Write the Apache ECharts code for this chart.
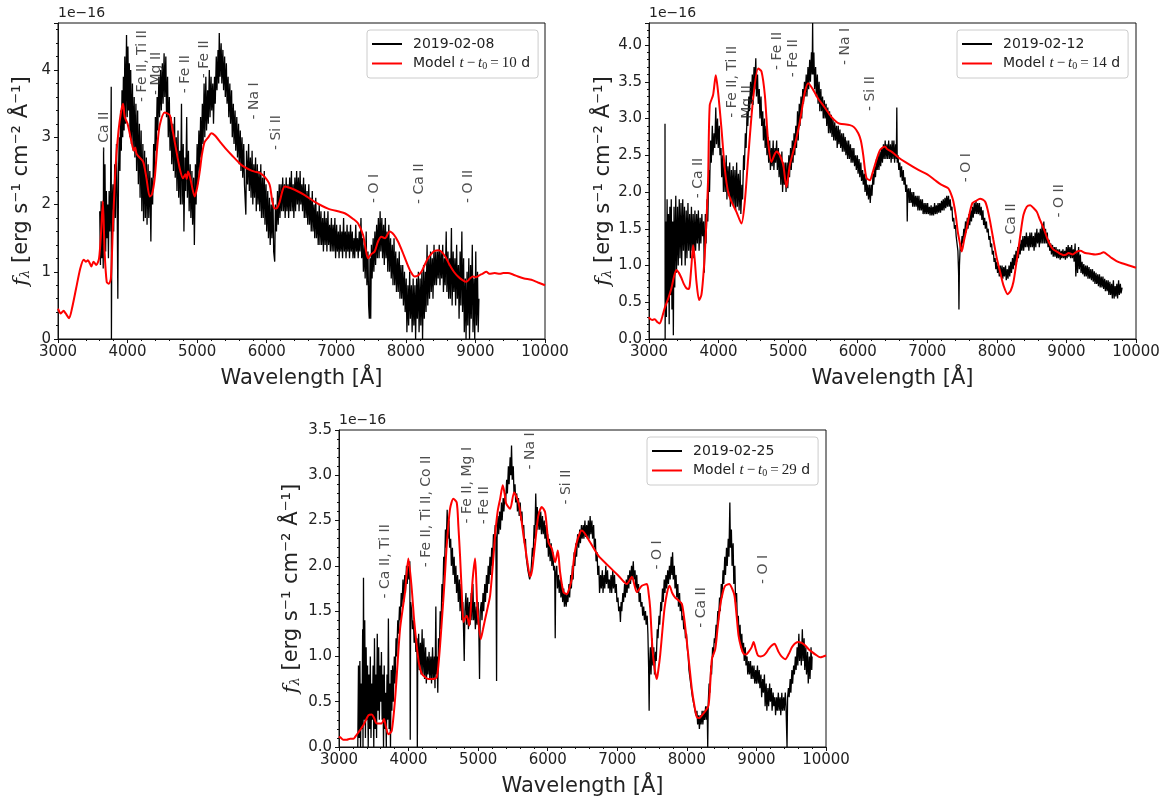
<!DOCTYPE html>
<html><head><meta charset="utf-8">
<script src="https://cdn.jsdelivr.net/npm/echarts/dist/echarts.min.js"></script>
<style>html,body{margin:0;padding:0;background:#fff}#c{width:1168px;height:806px}</style>
</head><body><div id="c"></div>
<script>
// ---------- DATA (wavelength in Å, flux in 1e-16 erg s^-1 cm^-2 Å^-1) ----------
const obsNames = ['2019-02-08', '2019-02-12', '2019-02-25'];
const modelNames = ['Model t − t0 = 10 d', 'Model t − t0 = 14 d', 'Model t − t0 = 29 d'];
const xTicks = [3000, 4000, 5000, 6000, 7000, 8000, 9000, 10000];
const yMax = [4.7, 4.3, 3.5];
const yStep = [1, 0.5, 0.5];

const obs1 = [3600,1.9,3610,1.1,3620,2.05,3630,1.2,3640,2.0,3650,1.05,3655,2.85,3665,1.4,3675,2.6,3685,1.3,3695,2.2,3705,1.5,3715,2.0,3725,1.2,3735,2.2,3745,1.6,3755,2.1,3765,3.75,3768,0,3775,1.9,3790,2.3,3800,1.6,3815,2.6,3825,1.8,3840,2.9,3850,2.1,3860,0.6,3870,2.5,3880,3.0,3890,2.5,3900,3.4,3910,2.8,3920,3.7,3930,3.0,3940,3.9,3950,3.1,3960,4.2,3970,3.2,3985,4.52,3995,3.3,4005,4.35,4015,3.4,4025,4.1,4035,3.0,4045,4.0,4055,2.9,4070,3.8,4080,2.8,4095,3.6,4105,2.7,4120,3.5,4130,2.5,4145,3.4,4155,2.3,4170,3.2,4180,2.1,4195,3.1,4205,1.9,4220,2.9,4230,1.75,4245,2.8,4255,1.8,4270,2.7,4280,1.7,4295,2.6,4305,1.8,4320,2.5,4335,1.45,4345,2.4,4360,2.0,4375,2.9,4385,2.4,4400,3.3,4410,2.8,4425,3.6,4435,3.1,4450,3.9,4460,3.3,4475,4.0,4485,3.4,4500,4.1,4510,3.5,4525,4.25,4535,3.6,4550,4.2,4560,3.3,4575,3.9,4585,3.0,4600,3.6,4610,2.8,4625,3.3,4635,2.6,4650,3.2,4660,2.5,4675,3.3,4685,2.4,4700,3.0,4710,2.2,4725,3.1,4735,2.1,4750,2.8,4760,2.0,4775,3.5,4785,2.0,4800,2.9,4810,1.6,4825,2.7,4835,2.2,4850,3.3,4860,2.1,4875,2.8,4885,1.9,4900,2.6,4910,1.8,4925,2.5,4935,1.7,4950,2.4,4960,1.4,4975,2.6,4985,2.0,5000,2.9,5010,2.3,5025,3.1,5035,2.5,5050,3.3,5060,2.7,5075,3.5,5085,2.9,5100,3.8,5110,3.0,5125,3.9,5135,3.1,5150,3.7,5160,3.2,5175,4.0,5185,3.3,5200,3.9,5210,3.4,5225,3.8,5235,3.2,5250,3.9,5260,3.5,5275,4.2,5285,3.7,5300,4.3,5310,3.8,5318,4.55,5330,3.9,5345,4.4,5355,3.8,5370,4.3,5380,3.7,5395,4.2,5405,3.6,5420,4.1,5430,3.5,5445,3.9,5455,3.3,5470,3.8,5480,3.2,5495,3.7,5505,3.0,5520,3.5,5530,2.9,5545,3.4,5555,2.8,5570,3.3,5580,2.7,5595,3.2,5605,2.6,5620,3.1,5630,2.5,5645,3.0,5655,2.4,5670,2.9,5680,2.3,5700,1.85,5710,2.8,5725,2.3,5740,2.9,5750,2.2,5765,2.7,5775,2.1,5790,2.8,5800,2.0,5815,2.6,5825,2.1,5840,2.7,5850,1.9,5865,2.6,5875,2.0,5890,2.5,5900,1.9,5915,2.6,5925,1.8,5940,2.4,5950,1.8,5965,2.5,5975,1.7,5990,2.3,6000,1.6,6015,2.2,6025,1.5,6040,2.1,6050,1.4,6065,2.0,6075,1.5,6090,2.1,6100,1.3,6115,1.15,6125,2.0,6140,1.6,6155,2.2,6165,1.7,6180,2.3,6190,1.8,6205,2.3,6215,1.9,6230,2.4,6240,1.9,6255,2.3,6265,1.8,6280,2.4,6290,1.9,6305,2.3,6315,1.8,6330,2.4,6340,1.9,6355,2.5,6365,1.9,6380,2.3,6390,1.8,6405,2.4,6415,1.9,6430,2.5,6440,2.0,6455,2.4,6465,1.9,6480,2.5,6490,2.0,6505,2.3,6515,1.9,6530,2.4,6540,1.8,6555,2.3,6565,1.8,6580,2.2,6590,1.7,6605,2.3,6615,1.7,6630,2.1,6640,1.6,6655,2.2,6665,1.6,6680,2.0,6690,1.5,6705,2.1,6715,1.5,6730,1.9,6740,1.4,6755,2.0,6765,1.4,6780,1.9,6790,1.4,6805,1.8,6815,1.3,6830,1.9,6840,1.4,6855,1.8,6865,1.3,6880,1.9,6890,1.4,6905,1.7,6915,1.3,6930,1.8,6940,1.3,6955,1.7,6965,1.3,6980,1.8,6990,1.2,7005,1.7,7015,1.3,7030,1.6,7040,1.2,7055,1.7,7065,1.3,7080,1.6,7090,1.2,7105,1.8,7115,1.3,7130,1.6,7140,1.2,7155,1.7,7165,1.3,7180,1.6,7190,1.2,7205,1.7,7215,1.3,7230,1.6,7240,1.2,7255,1.5,7265,1.2,7280,1.7,7290,1.3,7305,1.5,7315,1.2,7330,1.6,7340,1.3,7355,1.8,7365,1.2,7380,1.5,7390,1.0,7405,1.4,7415,0.9,7430,1.6,7440,0.8,7455,1.3,7465,0.5,7475,0.3,7485,1.2,7495,0.3,7505,1.4,7515,0.9,7530,1.5,7540,1.0,7555,1.6,7565,1.1,7580,1.7,7590,1.2,7605,1.8,7615,1.2,7630,1.9,7640,1.3,7655,1.8,7665,1.2,7680,1.7,7690,1.1,7705,1.8,7715,1.2,7730,1.6,7740,1.0,7755,1.7,7765,1.0,7780,1.5,7790,0.9,7805,1.4,7815,0.8,7830,1.5,7840,0.8,7855,1.3,7865,0.7,7880,1.2,7890,0.7,7905,1.3,7915,0.6,7930,1.1,7940,0.6,7955,1.1,7965,0.5,7980,1.0,7990,0.4,8005,0.9,8015,0.1,8030,0.8,8040,0.2,8055,1.0,8065,0.3,8080,0.8,8090,0.1,8105,0.9,8115,0.2,8130,0.8,8140,0.0,8155,0.9,8165,0.3,8180,1.0,8190,0.1,8205,0.9,8215,0.2,8230,1.0,8240,0.0,8255,1.1,8265,0.3,8280,1.0,8290,0.4,8305,1.4,8315,0.5,8330,1.2,8340,0.6,8355,1.3,8365,0.7,8380,1.2,8390,0.6,8405,1.4,8415,0.8,8430,1.3,8440,0.8,8455,1.3,8465,0.9,8480,1.4,8490,0.8,8505,1.3,8515,0.9,8530,1.4,8540,0.7,8555,1.2,8565,0.8,8580,1.6,8590,0.7,8605,1.3,8615,0.6,8630,1.2,8640,0.6,8655,1.65,8665,0.5,8680,1.3,8690,0.7,8705,1.2,8715,0.5,8730,1.4,8740,0.6,8755,1.1,8765,0.3,8780,1.3,8790,0.5,8805,1.6,8815,0.4,8830,1.2,8840,0.1,8855,0.9,8865,0.0,8880,1.0,8890,0.2,8905,1.2,8915,0.0,8930,1.1,8940,0.3,8955,1.4,8965,0.1,8980,0.9,8990,0.0,9005,1.3,9015,0.2,9030,1.0,9040,0.1,9050,0.6];

const model1 = [3000,0.45,3040,0.38,3080,0.42,3110,0.38,3160,0.31,3200,0.45,3260,0.75,3320,1.05,3370,1.18,3400,1.15,3430,1.17,3460,1.12,3480,1.08,3510,1.15,3550,1.1,3590,1.2,3620,1.6,3645,2.05,3670,1.3,3700,0.85,3730,0.82,3760,0.9,3790,1.7,3830,2.6,3870,3.1,3910,3.4,3935,3.5,3960,3.3,4000,3.2,4055,2.94,4090,2.8,4110,2.85,4130,2.75,4222,2.64,4270,2.4,4318,2.12,4350,2.15,4390,2.39,4430,2.9,4462,3.18,4534,3.37,4606,3.33,4640,3.15,4678,2.93,4749,2.54,4797,2.39,4830,2.45,4850,2.38,4869,2.49,4900,2.4,4940,2.2,4965,2.12,5000,2.25,5037,2.49,5070,2.75,5108,2.93,5160,3.0,5204,3.06,5252,3.03,5348,2.91,5420,2.82,5492,2.74,5635,2.59,5750,2.52,5827,2.49,5900,2.47,5971,2.41,6043,2.29,6080,2.05,6115,1.94,6150,1.95,6186,2.04,6225,2.2,6258,2.27,6330,2.25,6402,2.22,6546,2.14,6690,2.04,6881,1.94,7121,1.87,7250,1.78,7312,1.72,7384,1.55,7420,1.35,7456,1.2,7500,1.26,7552,1.3,7600,1.45,7648,1.52,7700,1.5,7767,1.6,7830,1.55,7887,1.45,7950,1.3,8007,1.15,8070,1.0,8127,0.93,8170,0.94,8223,1.0,8270,1.1,8318,1.2,8370,1.27,8414,1.31,8470,1.32,8510,1.3,8570,1.22,8630,1.1,8690,1.0,8750,0.93,8810,0.88,8869,0.85,8920,0.9,8965,0.93,9000,0.92,9061,0.95,9100,0.97,9157,1.0,9200,0.97,9277,0.98,9350,0.97,9400,0.98,9468,0.98,9540,0.96,9612,0.93,9700,0.9,9804,0.88,9900,0.84,10000,0.8];

const obs2 = [3230,2.93,3232,0.0,3240,1.6,3250,0.3,3260,1.9,3270,0.5,3280,1.7,3290,0.2,3300,1.8,3310,0.6,3320,1.9,3330,0.4,3340,1.6,3350,0.05,3360,1.8,3370,0.7,3385,1.95,3395,0.9,3410,1.8,3420,1.0,3435,1.9,3445,1.1,3460,1.85,3470,1.0,3485,1.9,3495,1.2,3510,1.8,3520,1.0,3535,1.75,3545,1.1,3560,1.85,3570,1.2,3585,1.7,3595,1.1,3610,1.8,3620,1.2,3635,1.7,3645,1.1,3660,1.75,3670,1.2,3685,1.7,3695,1.3,3710,1.75,3720,1.2,3735,1.65,3745,1.3,3760,1.7,3770,1.4,3785,1.6,3795,0.9,3810,1.7,3820,1.3,3835,1.9,3845,1.6,3860,2.3,3870,2.0,3885,2.7,3895,2.4,3910,2.9,3920,2.5,3935,2.8,3945,2.6,3960,3.15,3970,2.65,3985,3.0,3995,2.6,4010,2.9,4020,2.5,4035,2.6,4045,2.2,4060,2.5,4070,2.0,4085,2.4,4095,2.0,4110,2.5,4120,1.9,4135,2.35,4145,1.95,4160,2.4,4170,1.8,4185,2.3,4195,1.85,4210,2.35,4220,1.8,4235,2.3,4245,1.75,4260,2.4,4270,1.8,4285,2.25,4295,1.75,4310,2.3,4320,1.7,4335,2.1,4345,1.9,4360,2.5,4370,2.3,4385,2.8,4395,2.6,4410,3.1,4420,2.9,4435,3.3,4445,3.1,4460,3.5,4470,3.2,4485,3.6,4495,3.3,4510,3.7,4520,3.4,4535,3.82,4545,3.3,4560,3.6,4570,3.2,4585,3.4,4595,3.0,4610,3.3,4620,2.9,4635,3.1,4645,2.7,4660,3.0,4670,2.6,4685,2.9,4695,2.5,4710,2.75,4720,2.4,4735,2.7,4745,2.3,4760,2.6,4770,2.35,4785,2.7,4795,2.3,4810,2.6,4820,2.4,4835,2.7,4845,2.3,4860,2.6,4870,2.2,4885,2.5,4895,2.1,4910,2.55,4920,2.0,4935,2.4,4945,2.1,4960,2.4,4970,2.0,4985,2.4,4995,2.05,5010,2.5,5020,2.2,5035,2.6,5045,2.3,5060,2.7,5070,2.4,5085,2.8,5095,2.5,5110,2.9,5120,2.6,5135,3.1,5145,2.7,5160,3.2,5170,2.9,5185,3.3,5195,3.0,5210,3.4,5220,3.2,5235,3.5,5245,3.3,5260,3.6,5270,3.3,5285,3.7,5295,3.4,5310,3.8,5320,3.5,5335,3.9,5345,3.6,5352,4.3,5358,3.6,5370,3.9,5380,3.4,5395,3.7,5405,3.3,5420,3.6,5430,3.2,5445,3.5,5455,3.1,5470,3.4,5480,3.1,5495,3.3,5505,3.0,5520,3.25,5530,3.0,5545,3.2,5555,2.9,5570,3.15,5580,2.8,5595,3.1,5605,2.8,5620,3.05,5630,2.75,5645,3.0,5655,2.7,5670,2.95,5680,2.7,5695,2.9,5705,2.6,5720,2.9,5730,2.65,5745,2.85,5755,2.6,5770,2.8,5780,2.55,5795,2.8,5805,2.55,5820,2.75,5830,2.5,5845,2.7,5855,2.45,5870,2.7,5880,2.45,5895,2.65,5905,2.4,5920,2.6,5930,2.4,5945,2.6,5955,2.35,5970,2.5,5980,2.3,5995,2.5,6005,2.25,6020,2.45,6030,2.2,6045,2.4,6055,2.15,6070,2.3,6080,2.1,6095,2.25,6105,2.0,6120,2.2,6130,1.95,6145,2.1,6155,1.9,6170,2.1,6180,1.85,6195,2.1,6205,1.95,6220,2.25,6230,2.1,6245,2.35,6255,2.2,6270,2.45,6280,2.3,6295,2.5,6305,2.3,6320,2.55,6330,2.35,6345,2.6,6355,2.4,6370,2.65,6380,2.45,6395,2.7,6405,2.45,6420,2.65,6430,2.45,6445,2.7,6455,2.45,6470,2.65,6480,2.4,6495,2.7,6505,2.45,6520,2.7,6530,2.4,6545,2.65,6555,2.45,6562,3.15,6568,2.4,6580,2.5,6590,2.3,6605,2.4,6615,2.2,6630,2.35,6640,2.15,6655,2.3,6665,2.1,6680,2.2,6690,2.0,6705,2.1,6712,1.6,6718,2.0,6730,2.05,6740,1.85,6755,2.05,6765,1.85,6780,2.0,6790,1.8,6805,2.0,6815,1.8,6830,1.95,6840,1.8,6855,1.95,6865,1.75,6880,1.95,6890,1.75,6905,1.9,6915,1.75,6930,1.9,6940,1.7,6955,1.85,6965,1.7,6980,1.85,6990,1.7,7005,1.85,7015,1.7,7030,1.8,7040,1.68,7055,1.82,7065,1.68,7080,1.8,7090,1.68,7105,1.85,7115,1.7,7130,1.82,7140,1.7,7155,1.85,7165,1.72,7180,1.85,7190,1.72,7205,1.88,7215,1.75,7230,1.9,7240,1.75,7255,1.92,7265,1.78,7280,1.95,7290,1.8,7305,1.95,7315,1.8,7330,1.9,7340,1.75,7355,1.8,7365,1.6,7380,1.65,7390,1.5,7405,1.55,7415,1.4,7430,1.4,7440,1.2,7450,0.9,7455,0.4,7462,1.0,7475,1.3,7485,1.2,7500,1.4,7510,1.3,7525,1.5,7535,1.4,7550,1.6,7560,1.45,7575,1.65,7585,1.5,7600,1.7,7610,1.55,7625,1.75,7635,1.6,7650,1.8,7660,1.65,7675,1.85,7685,1.7,7700,1.88,7710,1.7,7725,1.85,7735,1.7,7750,1.85,7760,1.68,7775,1.8,7785,1.62,7800,1.75,7810,1.55,7825,1.65,7835,1.5,7850,1.6,7860,1.45,7875,1.5,7885,1.35,7900,1.4,7910,1.25,7925,1.3,7935,1.15,7950,1.2,7960,1.05,7975,1.1,7985,0.95,8000,1.05,8010,0.9,8025,1.0,8035,0.85,8050,1.0,8060,0.85,8075,1.0,8085,0.82,8100,0.98,8110,0.85,8125,1.0,8135,0.8,8150,0.95,8160,0.82,8175,1.0,8185,0.85,8200,1.05,8210,0.9,8225,1.1,8235,0.95,8250,1.15,8260,1.0,8275,1.2,8285,1.05,8300,1.25,8310,1.1,8325,1.3,8335,1.15,8350,1.35,8360,1.2,8375,1.4,8385,1.2,8400,1.4,8410,1.25,8425,1.45,8435,1.25,8450,1.4,8460,1.2,8475,1.45,8485,1.25,8500,1.45,8510,1.25,8525,1.4,8535,1.2,8550,1.45,8560,1.25,8575,1.5,8585,1.3,8600,1.45,8610,1.25,8625,1.5,8635,1.3,8650,1.55,8660,1.3,8675,1.6,8685,1.3,8700,1.5,8710,1.3,8725,1.45,8735,1.25,8750,1.35,8760,1.2,8775,1.3,8785,1.15,8800,1.28,8810,1.12,8825,1.25,8835,1.12,8850,1.25,8860,1.1,8875,1.22,8885,1.1,8900,1.22,8910,1.08,8925,1.2,8935,1.1,8950,1.22,8960,1.1,8975,1.2,8985,1.08,9000,1.25,9010,1.1,9025,1.28,9035,1.12,9050,1.25,9060,1.1,9075,1.28,9085,1.1,9100,1.22,9110,1.05,9125,1.3,9135,0.85,9150,1.2,9160,0.9,9175,1.25,9185,0.95,9200,1.15,9210,0.9,9225,1.05,9235,0.88,9250,1.02,9260,0.85,9275,1.0,9285,0.85,9300,1.0,9310,0.82,9325,0.98,9335,0.82,9350,0.95,9360,0.8,9375,0.95,9385,0.78,9400,0.92,9410,0.75,9425,0.9,9435,0.75,9450,0.88,9460,0.72,9475,0.88,9485,0.7,9500,0.85,9510,0.7,9525,0.85,9535,0.68,9550,0.82,9560,0.65,9575,0.8,9585,0.65,9600,0.8,9610,0.6,9625,0.78,9635,0.6,9650,0.75,9660,0.55,9675,0.8,9685,0.55,9700,0.72,9710,0.58,9725,0.75,9735,0.55,9750,0.8,9760,0.6,9775,0.75,9785,0.62,9800,0.7];

const model2 = [3000,0.3,3010,0.28,3050,0.26,3082,0.27,3120,0.23,3154,0.21,3190,0.3,3226,0.42,3280,0.56,3322,0.69,3360,0.85,3394,0.94,3430,0.9,3466,0.83,3500,0.75,3538,0.69,3570,0.68,3586,0.73,3610,1.0,3634,1.28,3660,1.05,3682,0.78,3720,0.53,3753,0.6,3780,0.85,3801,1.14,3830,1.7,3850,2.19,3873,3.18,3921,3.32,3945,3.5,3960,3.59,3993,3.36,4041,2.87,4089,2.32,4137,2.0,4185,1.87,4257,1.73,4329,1.57,4377,1.87,4425,2.46,4497,3.27,4569,3.68,4617,3.64,4665,3.32,4713,2.68,4761,2.41,4800,2.5,4833,2.55,4881,2.5,4929,2.37,4960,2.15,4977,2.07,5000,2.2,5025,2.37,5097,2.64,5169,2.96,5241,3.36,5289,3.48,5360,3.39,5432,3.27,5504,3.18,5624,3.02,5700,2.95,5744,2.93,5888,2.91,5950,2.88,6008,2.8,6045,2.7,6080,2.5,6105,2.3,6128,2.19,6176,2.16,6210,2.25,6248,2.37,6320,2.57,6392,2.62,6416,2.59,6500,2.54,6600,2.46,6680,2.41,6872,2.3,7000,2.24,7112,2.16,7200,2.1,7303,2.05,7350,1.95,7375,1.87,7410,1.68,7438,1.46,7470,1.3,7495,1.19,7530,1.35,7567,1.51,7610,1.72,7649,1.85,7700,1.88,7759,1.91,7831,1.87,7870,1.75,7903,1.6,7950,1.35,7999,1.1,8050,0.9,8095,0.73,8157,0.61,8200,0.66,8239,0.78,8275,1.0,8311,1.23,8350,1.5,8383,1.69,8430,1.8,8479,1.82,8530,1.78,8575,1.73,8620,1.62,8671,1.51,8720,1.38,8767,1.28,8810,1.22,8863,1.19,8910,1.16,8958,1.14,9000,1.15,9030,1.17,9090,1.15,9150,1.19,9200,1.2,9270,1.17,9340,1.16,9414,1.15,9480,1.16,9534,1.18,9600,1.14,9654,1.1,9720,1.06,9798,1.03,9900,1.0,10000,0.97];

const obs3 = [3270,0.0,3280,0.9,3290,0.1,3300,0.95,3310,0.0,3320,0.7,3330,0.2,3340,1.3,3345,0.0,3352,1.87,3360,0.3,3370,1.4,3380,0.1,3390,1.1,3400,0.3,3410,0.9,3420,0.0,3430,0.8,3440,0.2,3450,1.0,3460,0.1,3470,0.7,3480,0.3,3490,0.9,3500,0.0,3510,1.2,3520,0.2,3530,0.8,3540,0.1,3550,1.25,3560,0.4,3570,1.1,3580,0.3,3590,0.9,3600,0.5,3610,1.05,3620,0.3,3630,0.8,3640,0.0,3650,0.9,3660,0.2,3670,0.6,3680,0.0,3690,0.8,3700,0.3,3710,1.42,3720,0.2,3730,0.7,3740,0.0,3750,0.85,3760,0.4,3770,0.9,3780,0.5,3795,1.0,3805,0.7,3820,1.2,3830,1.0,3845,1.4,3855,1.25,3870,1.55,3880,1.4,3895,1.7,3905,1.55,3920,1.85,3930,1.6,3945,1.9,3955,1.7,3970,2.0,3980,1.8,3995,2.0,4005,1.85,4018,2.05,4024,0.08,4030,1.6,4045,1.5,4055,1.3,4070,1.4,4080,1.15,4095,1.3,4105,1.05,4120,1.2,4126,0.0,4132,1.0,4145,1.25,4155,0.85,4170,1.15,4180,0.8,4195,1.3,4205,0.8,4220,1.2,4230,0.75,4245,1.1,4255,0.7,4270,1.0,4280,0.8,4295,1.05,4305,0.75,4320,1.0,4330,0.7,4345,1.1,4355,0.75,4370,1.0,4380,0.65,4392,1.55,4400,0.8,4410,1.0,4420,0.6,4430,1.2,4440,1.0,4455,1.5,4465,1.3,4480,1.8,4490,1.6,4505,2.1,4515,1.9,4530,2.4,4540,2.2,4555,2.62,4565,2.3,4580,2.5,4590,2.2,4605,2.3,4615,2.0,4630,2.2,4640,1.9,4655,2.1,4665,1.8,4680,2.0,4690,1.7,4705,1.9,4715,1.6,4730,1.85,4740,1.5,4755,1.8,4765,1.4,4780,1.6,4790,1.3,4800,0.95,4810,1.5,4825,1.7,4835,1.35,4850,1.65,4860,1.3,4875,1.6,4885,1.35,4900,1.7,4910,1.4,4925,1.8,4935,1.4,4950,1.6,4960,1.3,4975,1.55,4985,1.35,5000,1.6,5010,1.3,5020,0.75,5030,1.5,5045,1.6,5055,1.4,5070,1.7,5080,1.5,5095,1.8,5105,1.6,5120,1.9,5130,1.7,5145,2.0,5155,1.8,5170,2.1,5180,1.9,5195,2.2,5205,2.0,5220,2.35,5230,2.2,5245,2.45,5255,2.3,5265,0.73,5272,2.3,5285,2.55,5295,2.35,5310,2.6,5320,2.4,5335,2.7,5345,2.5,5360,2.75,5370,2.6,5385,2.8,5395,2.7,5410,2.95,5420,2.8,5435,3.1,5445,2.9,5460,3.2,5470,3.0,5480,3.33,5490,2.95,5505,3.1,5515,2.8,5530,2.9,5540,2.7,5555,2.8,5565,2.6,5580,2.75,5590,2.55,5605,2.7,5615,2.5,5630,2.6,5640,2.4,5655,2.45,5665,2.25,5680,2.3,5690,2.1,5705,2.1,5715,1.95,5730,1.95,5740,1.85,5755,1.9,5765,2.0,5780,2.2,5790,2.1,5805,2.45,5815,2.3,5828,2.8,5838,2.45,5850,2.65,5860,2.4,5875,2.6,5885,2.4,5900,2.6,5910,2.35,5925,2.55,5935,2.35,5950,2.5,5960,2.3,5975,2.45,5985,2.2,6000,2.35,6010,2.1,6025,2.3,6035,2.05,6050,2.25,6060,2.0,6075,2.15,6085,1.95,6100,2.0,6108,1.2,6115,1.9,6130,2.0,6140,1.75,6155,1.9,6165,1.7,6180,1.85,6190,1.65,6205,1.8,6215,1.6,6230,1.75,6240,1.55,6255,1.7,6265,1.55,6280,1.7,6290,1.6,6305,1.8,6315,1.65,6330,1.9,6340,1.75,6355,2.0,6365,1.85,6380,2.15,6390,2.0,6405,2.25,6415,2.1,6430,2.35,6445,2.2,6460,2.4,6470,2.25,6485,2.45,6495,2.3,6510,2.45,6520,2.3,6535,2.5,6545,2.32,6560,2.45,6570,2.3,6585,2.5,6595,2.3,6610,2.55,6620,2.35,6635,2.5,6645,2.3,6660,2.45,6670,2.2,6685,2.3,6695,2.05,6710,2.15,6720,1.9,6735,2.0,6745,1.7,6760,1.9,6770,1.75,6785,1.95,6795,1.7,6810,1.9,6820,1.75,6835,2.0,6845,1.8,6860,1.95,6870,1.75,6885,1.85,6895,1.7,6910,1.9,6920,1.7,6935,1.95,6945,1.75,6960,1.9,6970,1.7,6985,1.8,6995,1.6,7010,1.65,7020,1.5,7035,1.55,7045,1.38,7055,1.6,7065,1.5,7080,1.7,7090,1.6,7105,1.8,7115,1.65,7130,1.85,7140,1.7,7155,1.9,7165,1.75,7180,1.95,7190,1.8,7205,2.0,7215,1.85,7230,2.05,7240,1.85,7255,1.95,7265,1.75,7280,1.9,7290,1.7,7305,1.8,7315,1.6,7330,1.7,7340,1.55,7355,1.6,7365,1.45,7380,1.55,7390,1.4,7405,1.5,7415,1.35,7430,1.45,7440,1.25,7450,0.9,7458,0.4,7465,0.9,7475,1.1,7485,0.8,7500,1.2,7510,0.9,7525,1.1,7535,0.8,7550,1.05,7560,0.95,7575,1.3,7585,1.2,7600,1.45,7610,1.35,7625,1.6,7635,1.5,7650,1.75,7660,1.6,7675,1.85,7685,1.7,7700,1.9,7710,1.75,7725,1.95,7735,1.8,7750,2.0,7760,1.85,7775,2.1,7785,1.9,7795,2.15,7805,1.85,7820,2.0,7830,1.75,7845,1.9,7855,1.65,7870,1.8,7880,1.55,7895,1.7,7905,1.5,7920,1.6,7930,1.4,7945,1.45,7955,1.3,7970,1.35,7980,1.2,7995,1.25,8005,1.1,8020,1.0,8030,0.85,8045,0.85,8055,0.7,8070,0.7,8080,0.55,8095,0.55,8105,0.45,8120,0.45,8130,0.35,8145,0.4,8155,0.25,8170,0.35,8180,0.2,8195,0.35,8205,0.25,8220,0.4,8230,0.25,8245,0.4,8255,0.3,8270,0.45,8280,0.3,8292,0.45,8300,0.0,8308,0.5,8320,0.7,8330,0.6,8345,0.9,8355,0.8,8370,1.1,8380,1.0,8395,1.2,8405,1.15,8420,1.35,8430,1.25,8445,1.5,8455,1.4,8470,1.65,8480,1.5,8495,1.8,8505,1.65,8520,1.95,8530,1.8,8545,2.1,8555,1.9,8570,2.2,8580,2.0,8595,2.3,8605,2.1,8618,2.7,8626,2.2,8640,2.4,8650,2.0,8665,2.25,8675,1.8,8690,2.0,8700,1.6,8715,1.7,8725,1.4,8740,1.45,8750,1.2,8765,1.35,8775,1.1,8790,1.25,8800,1.05,8815,1.15,8825,0.95,8840,1.1,8850,0.9,8865,1.0,8875,0.8,8890,0.95,8900,0.8,8915,0.95,8925,0.75,8940,0.9,8950,0.75,8965,0.9,8975,0.7,8990,0.85,9000,0.7,9015,0.9,9025,0.7,9040,0.85,9050,0.65,9065,0.8,9075,0.55,9090,0.75,9100,0.6,9115,0.8,9125,0.45,9140,0.7,9150,0.4,9165,0.65,9175,0.45,9190,0.7,9200,0.5,9215,0.65,9225,0.4,9240,0.6,9250,0.45,9265,0.55,9275,0.35,9290,0.55,9300,0.4,9315,0.6,9325,0.4,9340,0.55,9350,0.35,9365,0.6,9375,0.4,9390,0.55,9400,0.4,9415,0.6,9425,0.45,9440,0.0,9448,0.55,9460,0.65,9470,0.55,9485,0.75,9495,0.6,9510,0.85,9520,0.7,9535,0.9,9545,0.8,9560,1.0,9570,0.85,9585,1.1,9595,0.9,9610,1.25,9620,0.95,9635,1.15,9645,0.9,9660,1.3,9670,0.95,9685,1.2,9695,0.85,9710,1.1,9720,0.8,9735,1.05,9745,0.7,9760,1.0,9770,0.75,9785,1.1,9795,0.85,9800,1.0];

const model3 = [3000,0.1,3014,0.11,3060,0.08,3110,0.08,3160,0.09,3206,0.09,3240,0.12,3278,0.16,3350,0.24,3422,0.35,3470,0.36,3505,0.32,3542,0.26,3614,0.26,3647,0.31,3675,0.22,3710,0.14,3758,0.18,3806,0.53,3840,0.9,3877,1.3,3920,1.55,3949,1.71,3997,2.08,4045,1.75,4080,1.4,4117,1.12,4150,0.92,4189,0.81,4240,0.77,4285,0.75,4350,0.75,4405,0.77,4440,1.0,4477,1.38,4515,1.8,4549,2.23,4596,2.63,4644,2.74,4692,2.7,4715,2.45,4740,2.11,4765,1.7,4788,1.38,4810,1.42,4836,1.45,4874,1.34,4900,1.6,4922,1.86,4956,2.08,4975,1.8,4989,1.53,5037,1.19,5070,1.3,5100,1.41,5140,1.55,5172,1.67,5210,2.0,5244,2.34,5280,2.6,5316,2.74,5354,2.89,5380,2.8,5402,2.69,5459,2.63,5517,2.81,5579,2.7,5620,2.52,5651,2.34,5709,2.04,5747,1.88,5775,1.95,5805,2.15,5840,2.4,5867,2.56,5915,2.65,5963,2.59,6011,2.26,6059,2.19,6107,2.04,6145,2.17,6178,1.93,6226,1.71,6274,1.69,6310,1.75,6346,1.86,6380,2.1,6418,2.26,6466,2.37,6490,2.39,6610,2.26,6730,2.11,6873,2.0,7017,1.89,7137,1.8,7209,1.88,7281,1.71,7353,1.78,7425,1.8,7450,1.7,7473,1.53,7506,1.08,7540,0.85,7568,0.75,7590,0.85,7616,1.01,7650,1.3,7679,1.53,7715,1.7,7751,1.78,7790,1.7,7832,1.65,7880,1.62,7928,1.58,7965,1.4,8000,1.16,8036,0.9,8072,0.64,8110,0.45,8144,0.33,8180,0.32,8216,0.35,8270,0.4,8312,0.46,8340,0.75,8360,0.97,8408,1.08,8440,1.3,8479,1.56,8515,1.7,8551,1.78,8609,1.8,8650,1.75,8685,1.67,8715,1.45,8743,1.23,8780,1.1,8815,1.03,8850,1.02,8887,1.05,8930,1.1,8959,1.16,8990,1.08,9021,1.01,9060,1.0,9103,1.01,9140,1.04,9175,1.08,9220,1.12,9261,1.14,9290,1.1,9318,1.05,9360,1.0,9414,0.97,9460,1.02,9510,1.1,9550,1.14,9596,1.16,9650,1.15,9702,1.12,9750,1.08,9798,1.05,9850,1.02,9918,0.99,9960,1.0,10000,1.01];

// line identifications: [wavelength, flux position, text]
const ids1 = [[3662,3.08,'- Ca II'],[4208,4.06,'- Fe II, Ti II'],[4414,3.95,'- Mg II'],[4836,3.94,'- Fe II'],[5109,4.16,'- Fe II'],[5828,3.54,'- Na I'],[6139,3.07,'- Si II'],[7552,2.24,'- O I'],[8199,2.31,'- Ca II'],[8903,2.27,'- O II']];
const ids2 = [[3705,2.19,'- Ca II'],[4200,3.5,'- Fe II, Ti II'],[4410,3.16,'- Mg II'],[4847,3.92,'- Fe II'],[5082,3.82,'- Fe II'],[5816,3.98,'- Na I'],[6176,3.34,'- Si II'],[7558,2.33,'- O I'],[8205,1.57,'- Ca II'],[8896,1.88,'- O II']];
const ids3 = [[3662,2.05,'- Ca II, Ti II'],[4261,2.6,'- Fe II, Ti II, Co II'],[4846,2.89,'- Fe II, Mg I'],[5085,2.67,'- Fe II'],[5757,3.27,'- Na I'],[6274,2.87,'- Si II'],[7569,2.12,'- O I'],[8206,1.54,'- Ca II'],[9103,1.96,'- O I']];

// ---------- CHART ----------
function pairs(flat){ const out=[]; for(let i=0;i<flat.length;i+=2) out.push([flat[i],flat[i+1]]); return out; }
const obs = [obs1, obs2, obs3];
const models = [model1, model2, model3];
const ids = [ids1, ids2, ids3];
const FONT = 'DejaVu Sans';
const INK = '#222';
const grids = [
  {left:58, top:23, width:487, height:316},
  {left:649, top:23, width:487, height:316},
  {left:339, top:430, width:487, height:317}
];
const yNameGap = [26, 31, 37];
const legendPos = [{left:367, top:30},{left:957, top:30},{left:647, top:437}];
const offsetPos = [{left:58, top:6},{left:649, top:6},{left:339, top:413}];

const chart = echarts.init(document.getElementById('c'), null, {renderer:'canvas'});
const option = {
  animation:false,
  backgroundColor:'#fff',
  grid: grids.map(g => Object.assign({show:true, borderColor:'#111', borderWidth:1, backgroundColor:'transparent', containLabel:false, outerBoundsMode:'none'}, g)),
  xAxis: grids.map((g,i) => ({
    gridIndex:i, type:'value', min:xTicks[0], max:xTicks[xTicks.length-1], interval:xTicks[1]-xTicks[0],
    axisLine:{show:true, onZero:false, lineStyle:{color:'#111', width:1}},
    axisTick:{show:true, length:4, lineStyle:{color:'#111'}},
    minorTick:{show:true, splitNumber:5, length:2, lineStyle:{color:'#111'}},
    splitLine:{show:false},
    axisLabel:{fontFamily:FONT, fontSize:15, color:INK, margin:6, formatter:v=>String(v), showMinLabel:true, showMaxLabel:true, hideOverlap:false},
    name:'Wavelength [Å]', nameLocation:'middle', nameGap:29,
    nameTextStyle:{fontFamily:FONT, fontSize:21, color:INK}
  })),
  yAxis: grids.map((g,i) => ({
    gridIndex:i, type:'value', min:0, max:yMax[i], interval:yStep[i],
    axisLine:{show:true, onZero:false, lineStyle:{color:'#111', width:1}},
    axisTick:{show:true, length:4, lineStyle:{color:'#111'}},
    minorTick:{show:true, splitNumber:5, length:2, lineStyle:{color:'#111'}},
    splitLine:{show:false},
    axisLabel:{fontFamily:FONT, fontSize:15, color:INK, margin:7,
      formatter: v => yStep[i] < 1 ? v.toFixed(1) : String(v),
      showMaxLabel: (yMax[i] / yStep[i]) % 1 === 0, hideOverlap:false},
    name:'{i|f}{s|λ}{b| [erg s⁻¹ cm⁻² Å⁻¹]}', nameLocation:'middle', nameGap:yNameGap[i],
    nameTextStyle:{fontFamily:FONT, fontSize:21, color:INK,
      rich:{
        i:{fontFamily:'DejaVu Serif', fontStyle:'italic', fontSize:21, color:INK, verticalAlign:'bottom'},
        s:{fontFamily:'DejaVu Serif', fontStyle:'italic', fontSize:13, color:INK, verticalAlign:'bottom'},
        b:{fontFamily:FONT, fontSize:21, color:INK, verticalAlign:'bottom'}
      }}
  })),
  legend: grids.map((g,i) => ({
    data:[obsNames[i], modelNames[i]], orient:'vertical',
    left:legendPos[i].left, top:legendPos[i].top,
    icon:'rect', itemWidth:30, itemHeight:2, itemGap:5, padding:[7,8,7,5],
    backgroundColor:'#fff', borderColor:'#ccc', borderWidth:1, borderRadius:3,
    selectedMode:false,
    textStyle:{fontFamily:FONT, fontSize:14, color:INK, padding:[0,0,0,6],
      rich:{
        n:{fontFamily:FONT, fontSize:14, color:INK},
        t:{fontFamily:'Liberation Serif', fontStyle:'italic', fontSize:15, color:INK},
        m:{fontFamily:'Liberation Serif', fontSize:15, color:INK},
        z:{fontFamily:'Liberation Serif', fontSize:10, color:INK, verticalAlign:'bottom'}
      }},
    formatter: name => {
      if (name.indexOf('Model') !== 0) return name;
      const d = name.match(/=\s*(\d+)/)[1];
      return '{n|Model }{t|t}{m|\u2009−\u2009}{t|t}{z|0}{m|\u2009=\u2009' + d + '}{n| d}';
    }
  })),
  graphic: offsetPos.map(p => ({type:'text', left:p.left, top:p.top, silent:true,
    style:{text:'1e−16', fontFamily:FONT, fontSize:14, fill:INK}})),
  series: []
};
for (let i = 0; i < 3; i++) {
  option.series.push({
    type:'line', name:obsNames[i], xAxisIndex:i, yAxisIndex:i, data:pairs(obs[i]),
    symbol:'none', showSymbol:false, sampling:null, z:2,
    lineStyle:{color:'#000', width:1.3}, itemStyle:{color:'#000'}, emphasis:{disabled:true}
  });
  option.series.push({
    type:'line', name:modelNames[i], xAxisIndex:i, yAxisIndex:i, data:pairs(models[i]),
    symbol:'none', showSymbol:false, smooth:0.25, z:3,
    lineStyle:{color:'#ff0000', width:2}, itemStyle:{color:'#ff0000'}, emphasis:{disabled:true}
  });
  option.series.push({
    type:'scatter', name:'ids'+i, xAxisIndex:i, yAxisIndex:i, data:ids[i],
    symbolSize:1, itemStyle:{color:'rgba(0,0,0,0)'}, silent:true, z:5, clip:false,
    label:{show:true, position:'inside', rotate:90, formatter:p=>p.data[2],
      fontFamily:FONT, fontSize:14, color:'#222'},
    labelLayout:{hideOverlap:false}
  });
}
chart.setOption(option);
</script></body></html>
